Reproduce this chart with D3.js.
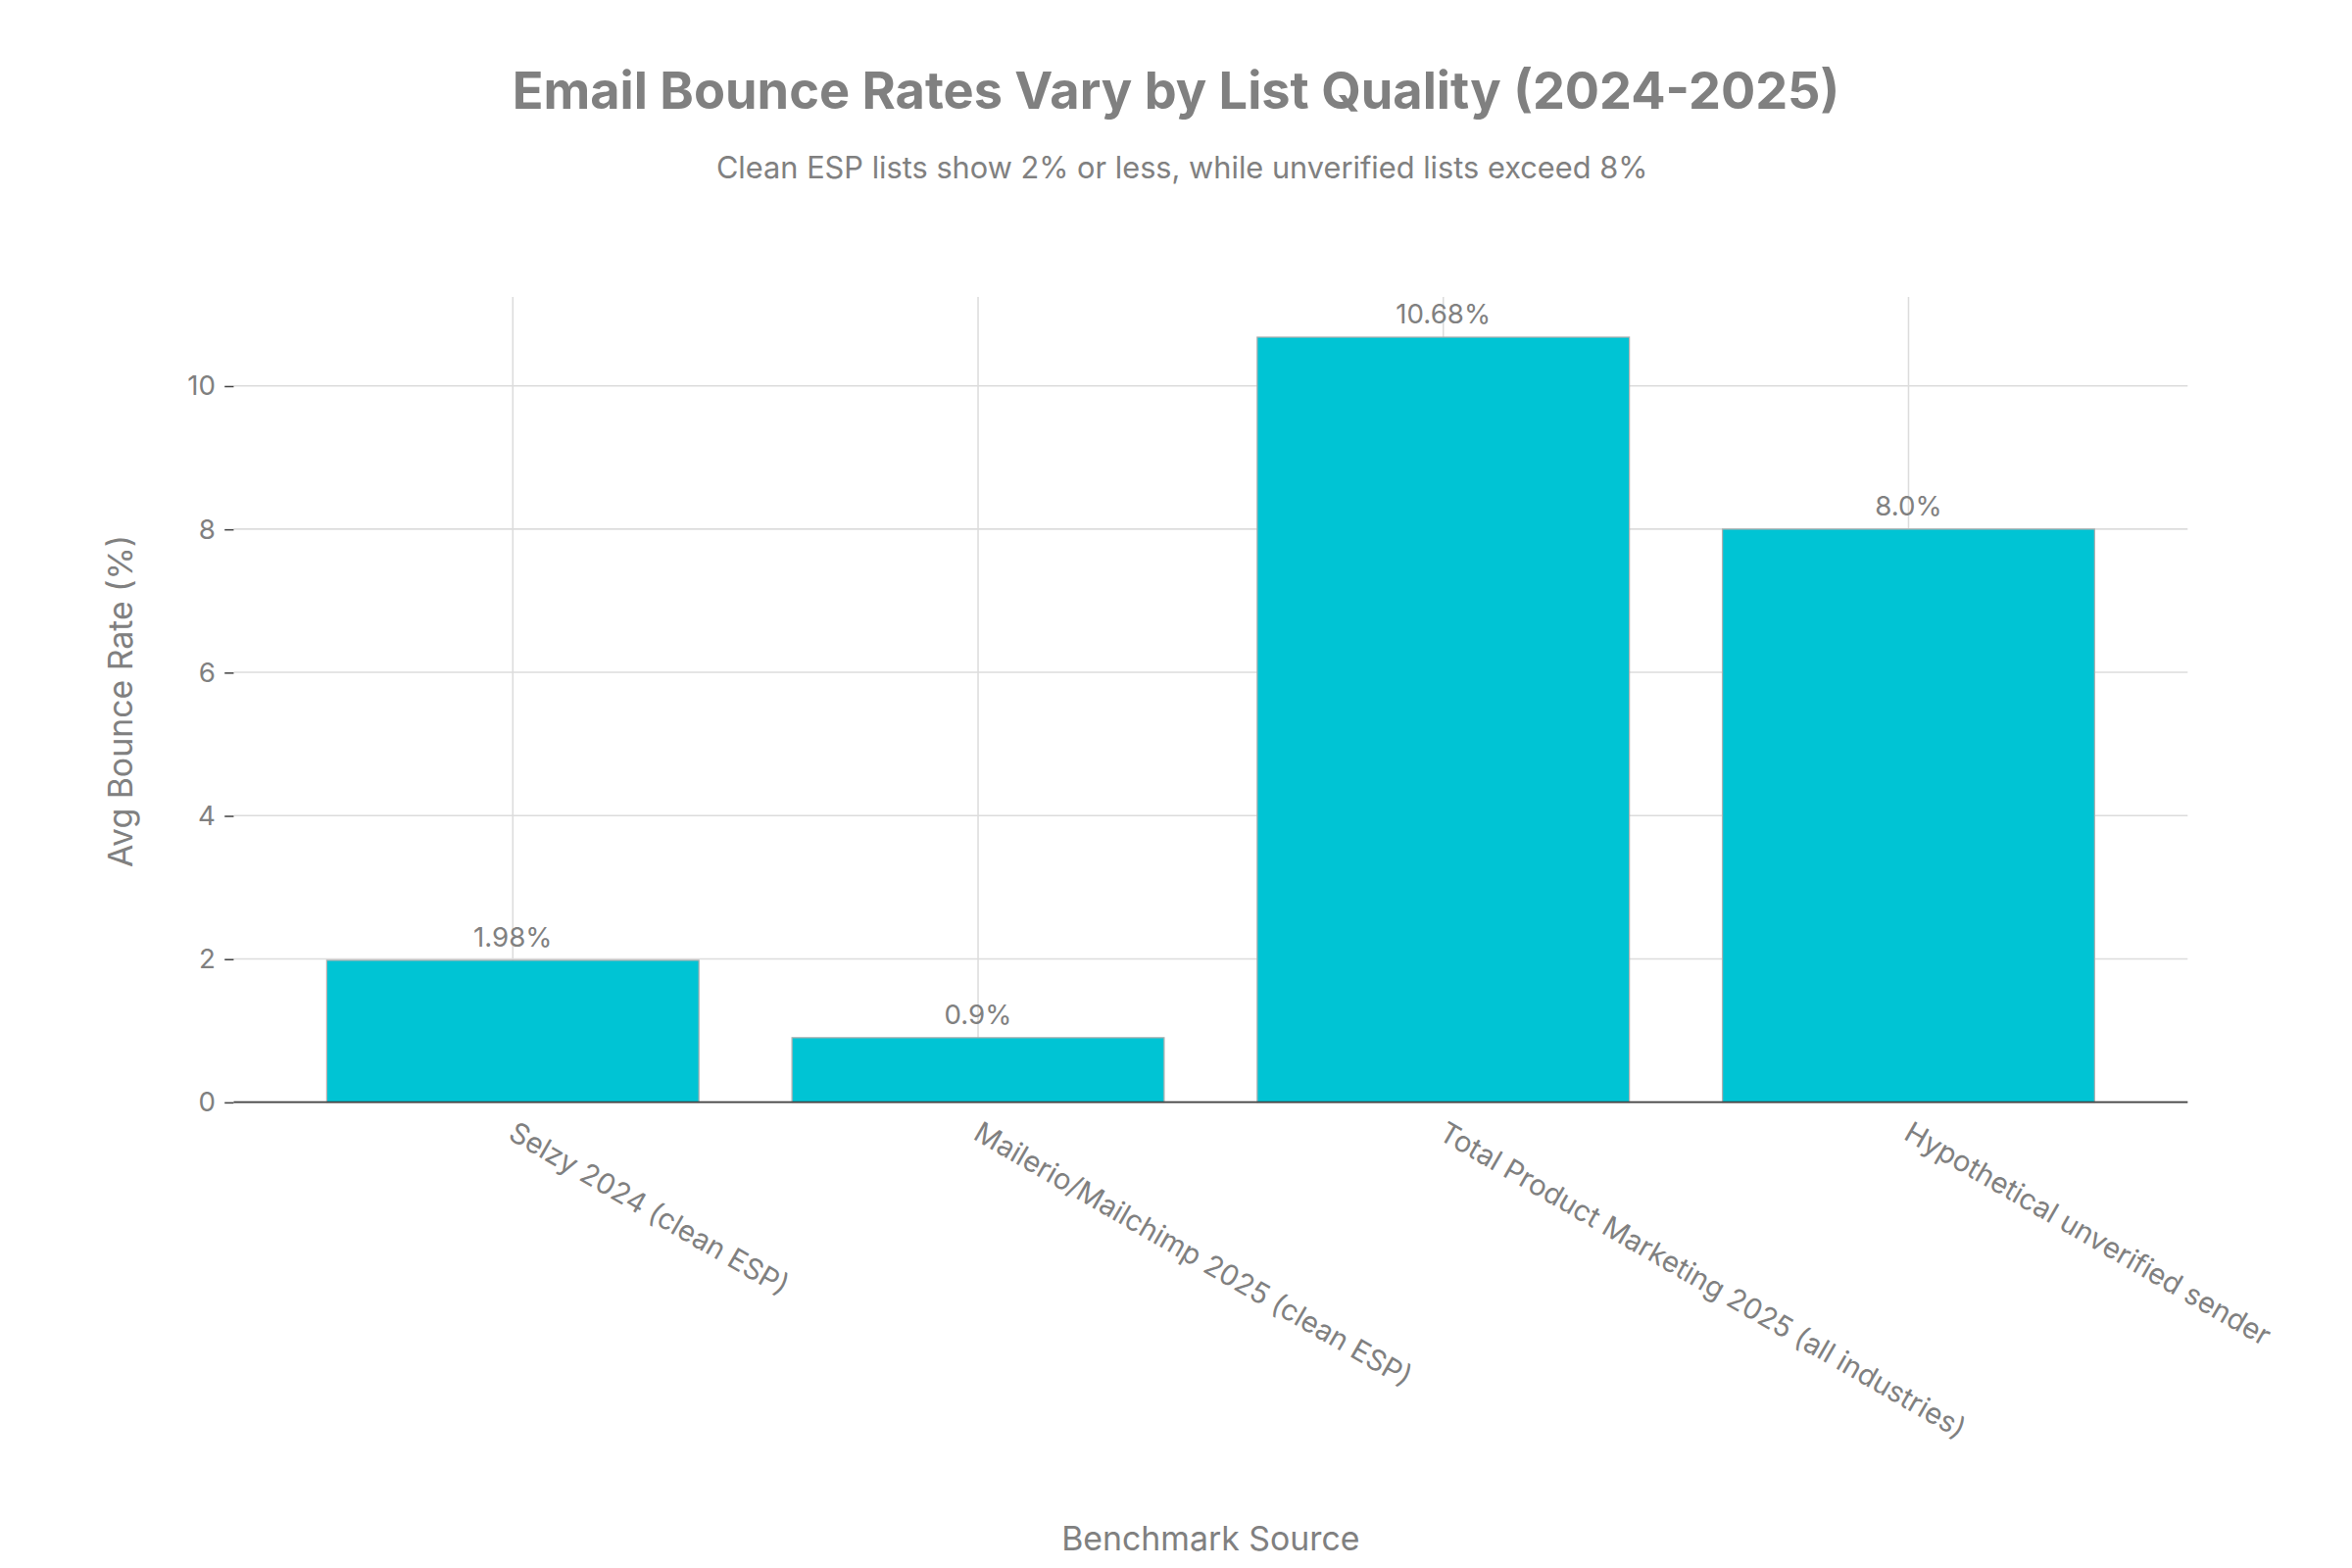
<!DOCTYPE html><html><head><meta charset="utf-8"><script src="https://cdn.jsdelivr.net/npm/d3@7"></script>
<style>body{margin:0;background:#fff}text{font-family:Inter,"Noto Sans",sans-serif;fill:#808080}</style></head><body>
<script>
const categories=["Selzy 2024 (clean ESP)","Mailerio/Mailchimp 2025 (clean ESP)","Total Product Marketing 2025 (all industries)","Hypothetical unverified sender"];
const values=[1.98,0.9,10.68,8.0];
const labels=["1.98%","0.9%","10.68%","8.0%"];
const yTicks=[0,2,4,6,8,10];
const svg=d3.select("body").append("svg").attr("width",2400).attr("height",1600).attr("viewBox","0 0 1560 1040");
const L=155,R=1451,T=197,B=731;
const x=d3.scaleBand().domain(categories).range([L,R]).padding(0.2);
const y=d3.scaleLinear().domain([0,11.24]).range([B,T]);
svg.append("g").selectAll("line").data(yTicks).join("line").attr("x1",L).attr("x2",R).attr("y1",d=>y(d)).attr("y2",d=>y(d)).attr("stroke","#dcdcdc");
svg.append("g").selectAll("line").data(categories).join("line").attr("x1",d=>x(d)+x.bandwidth()/2).attr("x2",d=>x(d)+x.bandwidth()/2).attr("y1",T).attr("y2",B).attr("stroke","#dcdcdc");
svg.append("g").selectAll("rect").data(values).join("rect").attr("x",(d,i)=>x(categories[i])).attr("width",x.bandwidth()).attr("y",d=>y(d)).attr("height",d=>B-y(d)).attr("fill","#00C4D4").attr("stroke","#b0b0b0").attr("stroke-width",0.8);
svg.append("g").selectAll("text").data(values).join("text").attr("x",(d,i)=>x(categories[i])+x.bandwidth()/2).attr("y",d=>y(d)-9).attr("text-anchor","middle").attr("font-size",18).text((d,i)=>labels[i]);
svg.append("line").attr("x1",L).attr("x2",R).attr("y1",B).attr("y2",B).attr("stroke","#444");
const ya=svg.append("g").attr("transform",`translate(${L},0)`).call(d3.axisLeft(y).tickValues(yTicks).tickSize(6).tickPadding(6));
ya.select(".domain").remove();ya.selectAll("line").attr("stroke","#444");ya.selectAll("text").attr("font-size",18).style("fill","#808080").style("font-family","Inter");
svg.append("g").selectAll("text").data(categories).join("text").attr("font-size",19)
 .attr("transform",d=>`translate(${x(d)+x.bandwidth()/2-4},${B+24}) rotate(30)`).attr("text-anchor","start").text(d=>d);
svg.append("text").attr("x",780).attr("y",72).attr("text-anchor","middle").attr("font-size",34).attr("font-weight","bold").text("Email Bounce Rates Vary by List Quality (2024-2025)");
svg.append("text").attr("x",784).attr("y",118).attr("text-anchor","middle").attr("font-size",20).text("Clean ESP lists show 2% or less, while unverified lists exceed 8%");
svg.append("text").attr("transform","translate(88,465) rotate(-90)").attr("text-anchor","middle").attr("font-size",22).text("Avg Bounce Rate (%)");
svg.append("text").attr("x",803).attr("y",1028).attr("text-anchor","middle").attr("font-size",22).text("Benchmark Source");
</script></body></html>
